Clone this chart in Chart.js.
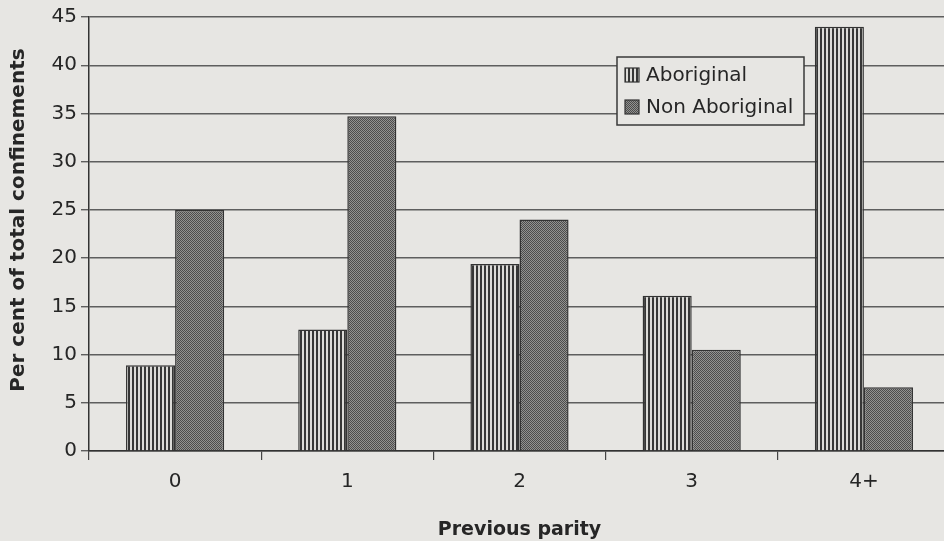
<!DOCTYPE html>
<html>
<head>
<meta charset="utf-8">
<script src="https://cdn.jsdelivr.net/npm/chart.js@4/dist/chart.umd.min.js"></script>
<style>
  html, body { margin: 0; padding: 0; overflow: hidden; background: #e7e6e3; }
  #wrap { width: 952px; height: 541px; }
  canvas { display: block; background: #e7e6e3; }
</style>
</head>
<body>
<div id="wrap"><canvas id="chart" width="952" height="541"></canvas></div>
<script>
// values
const categories = ['0', '1', '2', '3', '4+']
const aboriginal = [8.9, 12.6, 19.4, 16.1, 44.0]
const nonAboriginal = [25.0, 34.7, 24.0, 10.5, 6.6]
const seriesNames = ['Aboriginal', 'Non Aboriginal']

const ink = '#262626'
const bg = '#e7e6e3'
const face = '"DejaVu Sans", Verdana, sans-serif'

function stripes() {
    const c = document.createElement('canvas')
    c.width = 4; c.height = 4
    const g = c.getContext('2d')
    g.fillStyle = '#dcdbd8'
    g.fillRect(0, 0, 4, 4)
    g.fillStyle = '#363636'
    g.fillRect(0, 0, 2, 4)
    return g.createPattern(c, 'repeat')
}

function stipple() {
    const c = document.createElement('canvas')
    c.width = 2; c.height = 2
    const g = c.getContext('2d')
    g.fillStyle = '#929290'
    g.fillRect(0, 0, 2, 2)
    g.fillStyle = '#4c4c4c'
    g.fillRect(0, 0, 1, 1)
    g.fillRect(1, 1, 1, 1)
    return g.createPattern(c, 'repeat')
}

const fills = [stripes(), stipple()]

const boxLegend = {
    id: 'boxLegend',
    afterDraw(chart) {
        const ctx = chart.ctx
        const x = 617, y = 57, w = 187, h = 68
        ctx.save()
        ctx.fillStyle = bg
        ctx.fillRect(x, y, w, h)
        ctx.strokeStyle = '#3a3a3a'
        ctx.lineWidth = 1.5
        ctx.strokeRect(x, y, w, h)
        ctx.font = '20px ' + face
        ctx.textBaseline = 'middle'
        seriesNames.forEach((name, i) => {
            const cy = y + 18 + i * 32
            ctx.fillStyle = fills[i]
            ctx.fillRect(x + 8, cy - 7, 14, 14)
            ctx.strokeStyle = '#333'
            ctx.lineWidth = 1.2
            ctx.strokeRect(x + 8, cy - 7, 14, 14)
            ctx.fillStyle = ink
            ctx.fillText(name, x + 29, cy + 1)
        })
        ctx.restore()
    }
}

const ctx = document.getElementById('chart')
const chart = new Chart(ctx, {
    type: 'bar',
    data: {
        labels: categories,
        datasets: [{
            label: seriesNames[0],
            data: aboriginal,
            backgroundColor: fills[0],
            borderColor: '#333',
            borderWidth: 1.5,
        }, {
            label: seriesNames[1],
            data: nonAboriginal,
            backgroundColor: fills[1],
            borderColor: '#333',
            borderWidth: 1.5,
        }]
    },
    options: {
        responsive: false,
        animation: false,
        layout: {padding: {top: 17, right: 2, left: 0, bottom: 0}},
        categoryPercentage: 0.57,
        barPercentage: 1.0,
        plugins: {legend: {display: false}, tooltip: {enabled: false}},
        scales: {
            x: {
                grid: {
                    offset: true,
                    drawOnChartArea: false,
                    drawTicks: true,
                    tickLength: 9,
                    color: '#444',
                    lineWidth: 1.2
                },
                border: {color: '#333', width: 1.5},
                ticks: {
                    color: ink,
                    padding: 10,
                    font: {family: face, size: 20}
                },
                title: {
                    display: true,
                    text: 'Previous parity',
                    color: ink,
                    padding: {top: 4, bottom: 0},
                    font: {family: face, size: 19, weight: 'bold'}
                },
                afterFit(scale) { scale.height = 90 }
            },
            y: {
                min: 0,
                max: 45,
                ticks: {
                    stepSize: 5,
                    color: ink,
                    padding: 4,
                    font: {family: face, size: 20}
                },
                grid: {
                    color: '#5e5e5e',
                    lineWidth: 1.4,
                    tickLength: 8
                },
                border: {color: '#333', width: 1.5},
                title: {
                    display: true,
                    // leading spaces nudge the rotated title upwards like the original
                    text: '    Per cent of total confinements',
                    color: ink,
                    padding: {top: 7, bottom: 0},
                    font: {family: face, size: 20, weight: 'bold'}
                },
                afterFit(scale) { scale.width = 89 }
            }
        }
    },
    plugins: [boxLegend]
})
</script>
</body>
</html>
